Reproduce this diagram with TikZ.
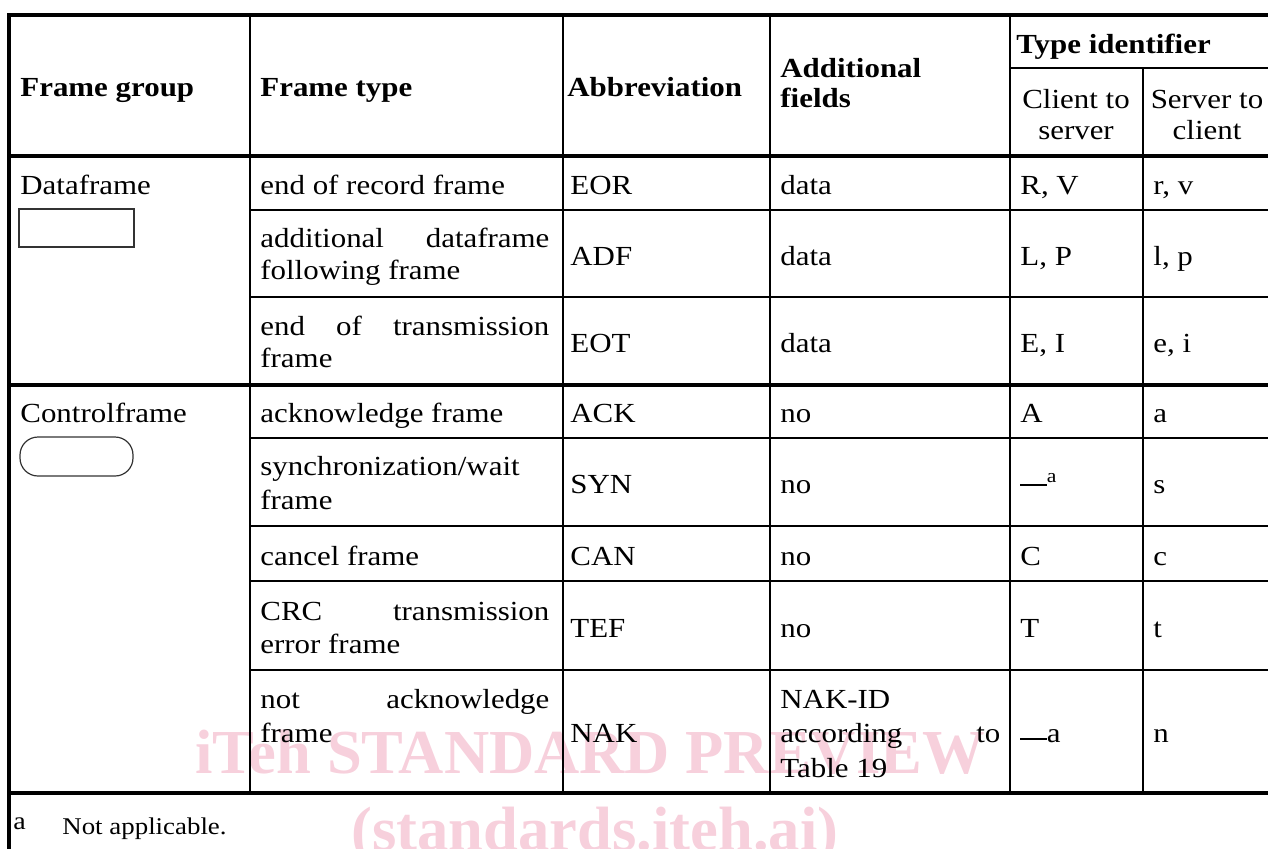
\documentclass[tikz,border=0pt]{standalone}
\usepackage{fontspec}
\setmainfont[FakeStretch=1.12]{Liberation Serif}
\newfontfamily\stampfont{Liberation Serif}
\usetikzlibrary{positioning}
\definecolor{markpink}{HTML}{F7D0DC}
\definecolor{boxline}{HTML}{333333}
\newcommand{\bodysize}{\fontsize{13.8pt}{16pt}\selectfont}
\newcommand{\nadash}{\rule[0.26em]{0.96em}{0.06em}\textsuperscript{a}}
\newcommand{\nadashlow}{\rule[0.07em]{0.96em}{0.06em}a}

\begin{document}
\begin{tikzpicture}[
  x=0.5pt,y=-0.5pt,
  cell/.style={anchor=base west,inner sep=0pt,font=\bodysize},
  midcell/.style={cell,anchor=base},
  headcell/.style={cell,font=\bodysize\bfseries},
  thinrule/.style={line width=1.2pt},
  thickrule/.style={line width=2pt},
  glyphbox/.style={draw=boxline,line width=0.6pt},
  stamp/.style={anchor=base west,inner sep=0pt,text=markpink,
    font=\stampfont\fontsize{31.3pt}{32pt}\selectfont\bfseries}
]
\useasboundingbox (0,0) rectangle (1268,848);
\clip (0,0) rectangle (1268,848);

% watermark behind the table
\node[stamp] (stampa) at (195,773) {iTeh STANDARD PREVIEW};
\node[stamp] (stampb) at (351,850) {(standards.iteh.ai)};

% rules
\draw[thickrule] (9,850) -- (9,15) -- (1280,15);
\foreach \y in {156,385,793}
  \draw[thickrule] (9,\y) -- (1280,\y);
\foreach \x in {250,563,770,1010}
  \draw[thinrule] (\x,15) -- (\x,793);
\draw[thinrule] (1143,68) -- (1143,793);
\draw[thinrule] (1010,68) -- (1280,68);
\foreach \y in {210,297,438,526,581,670}
  \draw[thinrule] (250,\y) -- (1280,\y);

% frame symbols
\draw[glyphbox] (19,209) rectangle (134,247);
\draw[glyphbox,rounded corners=9pt] (20,437) rectangle (133,476);

% header
\node[headcell] (hgroup) at (20,96) {Frame group};
\node[headcell] (htype) at (260,96) {Frame type};
\node[headcell] (habbr) at (567,96) {Abbreviation};
\node[headcell] (hfielda) at (780,77) {Additional};
\node[headcell] (hfieldb) at (780,107) {fields};
\node[headcell] (hident) at (1016,53) {Type identifier};
\node[midcell] (hcsa) at (1076,108) {Client to};
\node[midcell] (hcsb) at (1076,139) {server};
\node[midcell] (hsca) at (1207,108) {Server to};
\node[midcell] (hscb) at (1207,139) {client};

% data frames
\node[cell] (gdata) at (20,194) {Dataframe};
\node[cell] (teor) at (260,194) {end of record frame};
\node[cell] (aeor) at (570,194) {EOR};
\node[cell] (feor) at (780,194) {data};
\node[cell] (ceor) at (1020,194) {R, V};
\node[cell] (seor) at (1153,194) {r, v};

\node[cell] (tadfa) at (260,247) {\makebox[144.5pt][s]{additional dataframe}};
\node[cell] (tadfb) at (260,279) {following frame};
\node[cell] (aadf) at (570,265) {ADF};
\node[cell] (fadf) at (780,265) {data};
\node[cell] (cadf) at (1020,265) {L, P};
\node[cell] (sadf) at (1153,265) {l, p};

\node[cell] (teota) at (260,335) {\makebox[144.5pt][s]{end of transmission}};
\node[cell] (teotb) at (260,367) {frame};
\node[cell] (aeot) at (570,352) {EOT};
\node[cell] (feot) at (780,352) {data};
\node[cell] (ceot) at (1020,352) {E, I};
\node[cell] (seot) at (1153,352) {e, i};

% control frames
\node[cell] (gctrl) at (20,422) {Controlframe};
\node[cell] (tack) at (260,422) {acknowledge frame};
\node[cell] (aack) at (570,422) {ACK};
\node[cell] (fack) at (780,422) {no};
\node[cell] (cack) at (1020,422) {A};
\node[cell] (sack) at (1153,422) {a};

\node[cell] (tsyna) at (260,475) {synchronization/wait};
\node[cell] (tsynb) at (260,509) {frame};
\node[cell] (asyn) at (570,493) {SYN};
\node[cell] (fsyn) at (780,493) {no};
\node[cell] (csyn) at (1020,493) {\nadash};
\node[cell] (ssyn) at (1153,493) {s};

\node[cell] (tcan) at (260,565) {cancel frame};
\node[cell] (acan) at (570,565) {CAN};
\node[cell] (fcan) at (780,565) {no};
\node[cell] (ccan) at (1020,565) {C};
\node[cell] (scan) at (1153,565) {c};

\node[cell] (ttefa) at (260,620) {\makebox[144.5pt][s]{CRC transmission}};
\node[cell] (ttefb) at (260,653) {error frame};
\node[cell] (atef) at (570,637) {TEF};
\node[cell] (ftef) at (780,637) {no};
\node[cell] (ctef) at (1020,637) {T};
\node[cell] (stef) at (1153,637) {t};

\node[cell] (tnaka) at (260,708) {\makebox[144.5pt][s]{not acknowledge}};
\node[cell] (tnakb) at (260,742) {frame};
\node[cell] (anak) at (570,742) {NAK};
\node[cell] (fnaka) at (780,708) {NAK-ID};
\node[cell] (fnakb) at (780,742) {\makebox[110pt][s]{according to}};
\node[cell] (fnakc) at (780,777) {Table 19};
\node[cell] (cnak) at (1020,742) {\nadashlow};
\node[cell] (snak) at (1153,742) {n};

% footnote
\node[cell,font=\fontsize{12.5pt}{13pt}\selectfont] (fnmark) at (13,829) {a};
\node[cell,font=\fontsize{12pt}{13pt}\selectfont] (fntext) at (62,834) {Not applicable.};
\end{tikzpicture}
\end{document}
